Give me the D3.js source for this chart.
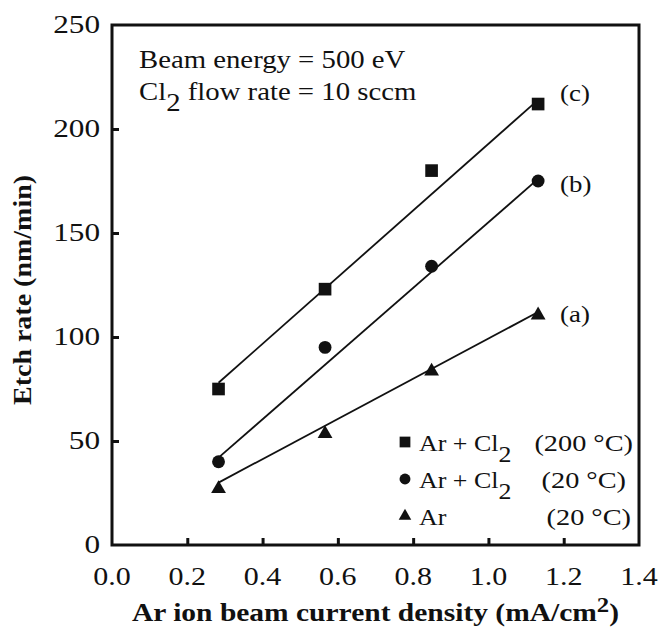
<!DOCTYPE html>
<html><head><meta charset="utf-8">
<script src="https://cdn.jsdelivr.net/npm/d3@7"></script>
<style>body{margin:0;background:#fff}svg{display:block}</style>
</head><body><svg id="c" width="662" height="633"></svg>
<script>
// ---- data ----
const xValues = [0.283, 0.566, 0.849, 1.132];
const seriesC = [75, 123, 180, 212];   // Ar + Cl2 (200 °C), squares
const seriesB = [40, 95, 134, 175];    // Ar + Cl2 (20 °C), circles
const seriesA = [27.5, 54, 84, 111];   // Ar (20 °C), triangles
const fitC = [78, 214];
const fitB = [42, 176];
const fitA = [30, 112];
const xTicks = [0, 0.2, 0.4, 0.6, 0.8, 1.0, 1.2, 1.4];
const xTickLabels = ["0.0", "0.2", "0.4", "0.6", "0.8", "1.0", "1.2", "1.4"];
const yTicks = [0, 50, 100, 150, 200, 250];
const yTickLabels = ["0", "50", "100", "150", "200", "250"];
const curveLabels = ["(c)", "(b)", "(a)"];
const legendMain = ["Ar + Cl", "Ar + Cl", "Ar"];
const legendSub = ["2", "2", ""];
const legendTemp = ["(200 °C)", "(20 °C)", "(20 °C)"];

const svg = d3.select("#c");
const L = 112, R = 639, T = 25, B = 545;
const x = d3.scaleLinear().domain([0, 1.4]).range([L, R]);
const y = d3.scaleLinear().domain([0, 250]).range([B, T]);
const serif = "'Liberation Serif','Times New Roman',serif";

function stext(px, py, size, sx, anchor, weight) {
  return svg.append("text")
    .attr("transform", `translate(${px},${py}) scale(${sx},1)`)
    .attr("font-family", serif)
    .attr("font-size", size)
    .attr("font-weight", weight || "normal")
    .attr("text-anchor", anchor || "start")
    .attr("fill", "#111");
}

// ticks (inward) via d3 axes
svg.append("g").attr("transform", `translate(0,${B})`)
  .call(d3.axisBottom(x).tickValues(xTicks.slice(1, -1)).tickSize(-7).tickFormat(""))
  .call(g => g.select(".domain").remove())
  .call(g => g.selectAll("line").attr("stroke", "#111").attr("stroke-width", 3));
svg.append("g").attr("transform", `translate(${L},0)`)
  .call(d3.axisLeft(y).tickValues(yTicks.slice(1, -1)).tickSize(-7).tickFormat(""))
  .call(g => g.select(".domain").remove())
  .call(g => g.selectAll("line").attr("stroke", "#111").attr("stroke-width", 3));

// frame
svg.append("rect").attr("x", L).attr("y", T).attr("width", R - L).attr("height", B - T)
  .attr("fill", "none").attr("stroke", "#111").attr("stroke-width", 3);

// tick labels
xTicks.forEach((v, i) => stext(x(v), B + 40, 25, 1.2, "middle").text(xTickLabels[i]));
yTicks.forEach((v, i) => stext(L - 12, y(v) + 8, 25, 1.25, "end").text(yTickLabels[i]));

// axis titles
const xt = stext((L + R) / 2, 621, 25, 1.18, "middle", "bold");
xt.append("tspan").text("Ar ion beam current density (mA/cm");
xt.append("tspan").attr("dy", -9).attr("font-size", 21).text("2");
xt.append("tspan").attr("dy", 9).text(")");
svg.append("text")
  .attr("transform", `translate(31,${(T + B) / 2 + 5}) rotate(-90) scale(1.12,1)`)
  .attr("font-family", serif).attr("font-size", 25).attr("font-weight", "bold")
  .attr("text-anchor", "middle").attr("fill", "#111")
  .text("Etch rate (nm/min)");

// annotations
stext(139, 68, 25, 1.15).text("Beam energy = 500 eV");
const a2 = stext(139, 100, 25, 1.15);
a2.append("tspan").text("Cl");
a2.append("tspan").attr("dy", 11).text("2");
a2.append("tspan").attr("dy", -11).text(" flow rate = 10 sccm");

// fit lines
const fits = [fitC, fitB, fitA];
fits.forEach(f => {
  svg.append("line")
    .attr("x1", x(xValues[0])).attr("y1", y(f[0]))
    .attr("x2", x(xValues[xValues.length - 1])).attr("y2", y(f[1]))
    .attr("stroke", "#111").attr("stroke-width", 1.8);
});

// markers
const sq = d3.symbol().type(d3.symbolSquare).size(160);
const ci = d3.symbol().type(d3.symbolCircle).size(130);
const tr = d3.symbol().type(d3.symbolTriangle).size(95);
const series = [
  { vals: seriesC, sym: sq },
  { vals: seriesB, sym: ci },
  { vals: seriesA, sym: tr, dy: 1 }
];
series.forEach(s => {
  svg.append("g").selectAll("path").data(s.vals).join("path")
    .attr("d", s.sym())
    .attr("transform", (d, i) => `translate(${x(xValues[i])},${y(d) + (s.dy || 0)})`)
    .attr("fill", "#111");
});

// curve labels
const lastVals = [seriesC[3], seriesB[3], seriesA[3]];
const labelOffset = [-3, 11, 8];
curveLabels.forEach((t, i) =>
  stext(x(xValues[3]) + 22, y(lastVals[i]) + labelOffset[i], 24, 1.12).text(t));

// legend
const legY = [442, 479, 516];
const legSyms = [sq, ci, tr];
const tempEnd = [633, 626, 631];
legY.forEach((ly, i) => {
  svg.append("path").attr("d", legSyms[i]()).attr("fill", "#111")
    .attr("transform", `translate(405,${ly}) scale(0.85)`);
  const t = stext(419, ly + 9, 24, 1.08);
  t.append("tspan").text(legendMain[i]);
  if (legendSub[i]) {
    t.append("tspan").attr("dy", 11).text(legendSub[i]);
  }
  stext(tempEnd[i], ly + 9, 24, 1.18, "end").text(legendTemp[i]);
});
</script>
</body></html>
